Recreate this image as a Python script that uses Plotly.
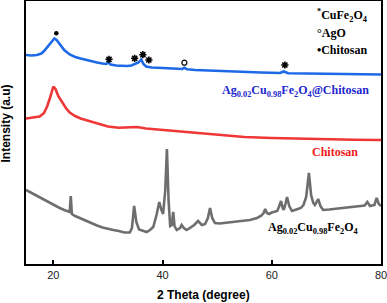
import plotly.graph_objects as go

# ---- data (2theta in degrees, intensity in arbitrary units, already offset) ----
blue_x = [15.0, 16.0, 17.0, 17.8, 18.3, 19.0, 19.6, 20.2, 20.6, 21.2, 22.0, 23.0, 24.0, 25.0,
          26.0, 27.0, 28.0, 29.0, 29.7, 30.1, 30.5, 31.5, 32.5, 33.5, 34.3, 35.0, 35.6, 36.1,
          36.5, 37.0, 38.0, 40.0, 42.0, 43.6, 44.0, 44.5, 46.0, 48.0, 50.0, 54.0, 58.0, 61.5,
          62.2, 63.0, 66.0, 70.0, 75.0, 80.0]
blue_py = [55, 55.5, 55, 53.5, 51, 46, 42, 38.5, 40, 44, 50, 54.5, 57, 58.5,
           60, 61, 62.5, 63.5, 64, 62.5, 64.5, 65.5, 66, 66, 65.5, 64, 62.5, 59.5,
           64, 66.5, 67.5, 68, 68.5, 69, 67.8, 69.3, 70, 70.5, 71, 71.8, 72.5, 73,
           71.5, 73.3, 73.5, 73.8, 74.2, 74.5]

red_x = [15.0, 16.5, 17.5, 18.3, 18.9, 19.5, 20.0, 20.4, 20.9, 21.5, 22.3, 23.0, 24.0, 25.0,
         26.5, 28.0, 30.0, 32.0, 34.0, 35.3, 37.0, 40.0, 43.0, 46.0, 50.0, 55.0, 60.0, 65.0,
         70.0, 75.0, 80.0]
red_py = [118.5, 117.5, 116.5, 113, 106, 96, 86.5, 89, 96, 101, 108, 112.5, 116, 118.5,
          121, 123.5, 126.5, 127.8, 127.5, 127, 128.5, 130, 131.5, 133, 135, 137, 138, 138.8,
          139.3, 139.7, 140]

gray_x = [15.0, 16.0, 17.0, 18.0, 19.0, 20.0, 21.0, 22.0, 23.0, 23.2, 23.4, 24.0, 25.0, 26.0,
          27.0, 28.0, 29.0, 30.0, 31.0, 32.0, 33.0, 34.0, 34.4, 34.8, 35.2, 35.7, 36.5, 37.1,
          37.7, 38.3, 38.9, 39.4, 39.8, 40.1, 40.5, 40.8, 41.1, 41.4, 41.7, 41.95, 42.2, 42.6,
          43.2, 43.5, 43.9, 44.4, 45.0, 45.8, 46.5, 47.2, 47.8, 48.3, 48.7, 49.1, 49.6, 50.5,
          52.0, 54.0, 56.0, 57.3, 58.0, 58.5, 58.8, 59.1, 59.5, 60.0, 60.5, 61.0, 61.3, 61.7,
          62.0, 62.2, 62.5, 62.8, 63.2, 63.7, 64.5, 65.3, 65.8, 66.3, 66.8, 67.2, 67.6, 67.9,
          68.2, 68.5, 68.9, 69.4, 70.5, 72.0, 74.0, 76.0, 77.0, 77.5, 78.0, 78.8, 79.2, 79.6,
          80.0]
gray_py = [190, 193, 196, 199, 202, 205, 207.5, 210, 212, 196, 214, 216, 218.5, 221,
           223.5, 225.5, 227.5, 229, 230, 231, 232.5, 232.5, 228, 206, 222, 229.5, 231, 232,
           230, 227, 215, 202, 210, 214, 190, 149, 200, 226, 225, 212, 226, 230,
           228, 225, 228, 230, 228, 225, 221, 225, 224, 218, 208, 218, 223, 223.5,
           222.5, 221.5, 220, 218, 216, 213, 209, 213, 214, 212.5, 212, 211, 207, 201,
           208, 210, 204, 197, 206, 211, 209.5, 208, 205, 197, 173, 195, 203, 205,
           202, 199, 206, 210, 209.5, 208.5, 207.5, 206.5, 205.5, 202, 206, 205, 198, 204,
           206]

BASE = 264
blue_y = [BASE - v for v in blue_py]
red_y = [BASE - v for v in red_py]
gray_y = [BASE - v for v in gray_py]

star_x = [30.2, 34.9, 36.4, 37.5, 62.4]
star_y = [BASE - 59.3, BASE - 58.3, BASE - 54.7, BASE - 60, BASE - 65]
dot_x, dot_y = [20.55], [BASE - 33.3]
ring_x, ring_y = [44.0], [BASE - 62.7]

xticks = [20, 40, 60, 80]

SERIF = "Liberation Serif, Times New Roman, serif"
SANS = "Liberation Sans, Arial, sans-serif"

fig = go.Figure()
fig.add_trace(go.Scatter(x=gray_x, y=gray_y, mode="lines",
                         line=dict(color="rgb(110,110,110)", width=2.6)))
fig.add_trace(go.Scatter(x=red_x, y=red_y, mode="lines",
                         line=dict(color="rgb(240,55,55)", width=2.6)))
fig.add_trace(go.Scatter(x=blue_x, y=blue_y, mode="lines",
                         line=dict(color="rgb(30,105,230)", width=2.6)))
fig.add_trace(go.Scatter(x=star_x, y=star_y, mode="markers",
                         marker=dict(symbol="asterisk-open", size=6, color="black",
                                     line=dict(width=1.6, color="black"))))
fig.add_trace(go.Scatter(x=dot_x, y=dot_y, mode="markers",
                         marker=dict(symbol="circle", size=4.5, color="black")))
fig.add_trace(go.Scatter(x=ring_x, y=ring_y, mode="markers",
                         marker=dict(symbol="circle-open", size=5, color="black",
                                     line=dict(width=1.2))))

ann = [
    dict(x=68.0, y=BASE - 15, text="<b><sup>*</sup>CuFe<sub>2</sub>O<sub>4</sub></b>",
         xanchor="left", font=dict(family=SERIF, size=12, color="black")),
    dict(x=68.0, y=BASE - 33, text="<b>°AgO</b>",
         xanchor="left", font=dict(family=SERIF, size=12, color="black")),
    dict(x=68.0, y=BASE - 50, text="<b>•Chitosan</b>",
         xanchor="left", font=dict(family=SERIF, size=12, color="black")),
    dict(x=64.4, y=BASE - 91, text="<b>Ag<sub>0.02</sub>Cu<sub>0.98</sub>Fe<sub>2</sub>O<sub>4</sub>@Chitosan</b>",
         xanchor="center", font=dict(family=SERIF, size=12, color="rgb(35,40,205)")),
    dict(x=71.6, y=BASE - 152, text="<b>Chitosan</b>",
         xanchor="center", font=dict(family=SERIF, size=12, color="rgb(240,25,25)")),
    dict(x=67.6, y=BASE - 228, text="<b>Ag<sub>0.02</sub>Cu<sub>0.98</sub>Fe<sub>2</sub>O<sub>4</sub></b>",
         xanchor="center", font=dict(family=SERIF, size=12, color="black")),
]
for a in ann:
    a.update(xref="x", yref="y", showarrow=False, yanchor="middle")
    fig.add_annotation(**a)

# axis titles as paper annotations
fig.add_annotation(x=-19.5 / 354.5, y=(264 - 123) / 263, xref="paper", yref="paper",
                   text="<b>Intensity (a.u)</b>", textangle=-90, showarrow=False,
                   xanchor="center", yanchor="middle",
                   font=dict(family=SANS, size=12, color="black"))
fig.add_annotation(x=0.5, y=-(295 - 264) / 263, xref="paper", yref="paper",
                   text="<b>2 Theta (degree)</b>", showarrow=False,
                   xanchor="center", yanchor="middle",
                   font=dict(family=SANS, size=12, color="black"))

fig.update_layout(
    width=387, height=303,
    margin=dict(l=26, r=6, t=1, b=39, autoexpand=False),
    paper_bgcolor="white", plot_bgcolor="white",
    showlegend=False,
    xaxis=dict(range=[15, 80], tickvals=xticks, ticktext=[str(t) for t in xticks],
               ticks="inside", ticklen=4, tickwidth=1.5, tickcolor="black",
               showline=True, linecolor="black", linewidth=1.5, mirror=True,
               showgrid=False, zeroline=False, automargin=False,
               ticklabeloverflow="allow",
               tickfont=dict(family=SANS, size=11, color="#222")),
    yaxis=dict(range=[0, 263], showticklabels=False, ticks="",
               showline=True, linecolor="black", linewidth=1.5, mirror=True,
               showgrid=False, zeroline=False, automargin=False),
)

fig.write_html("out.html", config={"displayModeBar": False},
               post_script="document.body.style.margin='0';document.body.style.overflow='hidden';")
